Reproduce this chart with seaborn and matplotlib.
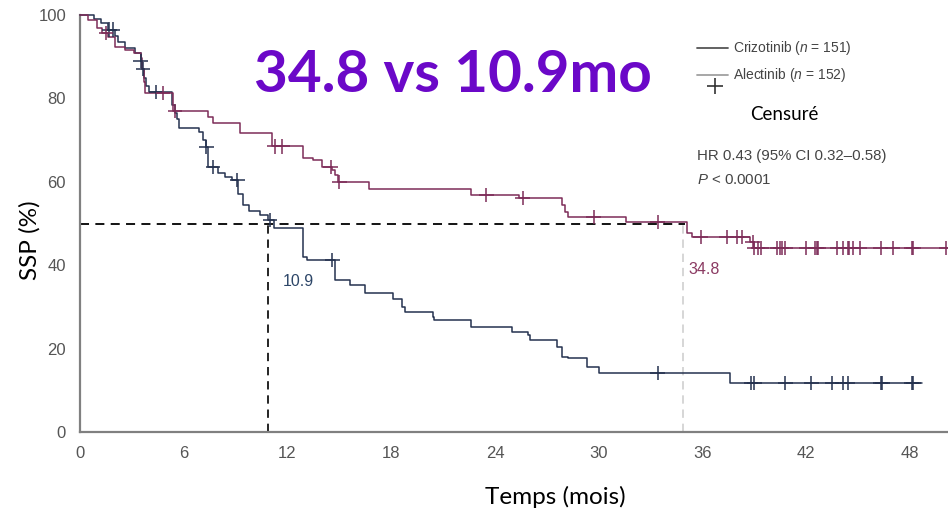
import numpy as np
import pandas as pd
import matplotlib
matplotlib.use("Agg")
import matplotlib.pyplot as plt
from matplotlib.lines import Line2D
import seaborn as sns

# ---------------- data ----------------
criz_time = [0, 0.8, 1.2, 1.6, 2.0, 2.2, 2.6, 3.2, 3.5, 3.6, 3.7, 3.8, 4.0, 5.3, 5.5, 5.6, 5.7,
             6.9, 7.1, 7.3, 7.4, 8.0, 8.4, 8.8, 9.15, 9.4, 9.8, 10.4, 10.9, 11.2, 12.9, 13.1,
             14.75, 15.6, 16.5, 18.1, 18.6, 18.8, 20.4, 20.5, 22.6, 25.0, 25.9, 26.0, 27.6,
             27.9, 28.2, 29.3, 30.0, 37.6, 48.7]
criz_surv = [100, 99, 98, 96.5, 95, 93.5, 92, 91, 89, 87, 85, 83, 81.5, 78.4, 76.5, 75, 73,
             72, 70, 68.3, 63.5, 62, 61.2, 60.4, 57, 54.5, 53, 52, 50.8, 49, 42, 41.2,
             36.5, 35.3, 33.3, 32, 30, 28.8, 27.6, 26.9, 25.2, 24, 23.3, 22.1, 20.4,
             18, 17.7, 15.6, 14.1, 11.8, 11.8]
criz_cens = [1.7, 1.9, 3.5, 3.65, 4.4, 7.3, 7.7, 9.1, 11.0, 14.6, 33.4, 38.8, 39.0, 40.8,
             42.3, 43.5, 44.1, 44.4, 46.3, 46.4, 48.1, 48.2]

alec_time = [0, 0.46, 1.0, 1.3, 1.6, 2.0, 2.6, 3.1, 3.5, 3.6, 3.7, 3.76, 5.4, 7.4, 7.7, 9.25,
             11.1, 12.9, 13.5, 14.0, 14.6, 14.75, 14.9, 16.7, 22.6, 25.4, 27.9, 28.05, 28.2,
             31.6, 35.1, 35.4, 38.75, 39.0, 50.2]
alec_surv = [100, 98.8, 96.9, 95.7, 94.7, 92.3, 91.6, 90.9, 89.7, 87, 84, 81.3, 77, 75.5, 74.2,
             71.8, 68.5, 65.7, 65.2, 63.5, 62.8, 61.6, 60, 58.3, 56.8, 56.1, 54.4, 52.8, 51.6,
             50.4, 47.7, 46.8, 45.6, 44.1, 44.1]
alec_cens = [1.5, 4.8, 5.5, 11.25, 11.7, 14.5, 15.0, 23.5, 25.6, 29.7, 33.4, 35.9, 37.4, 38.0,
             38.3, 38.9, 39.0, 39.2, 39.4, 40.3, 40.5, 40.6, 40.8, 42.0, 42.5, 42.6, 42.7,
             43.8, 44.1, 44.4, 44.5, 44.7, 45.1, 46.3, 47.0, 48.1, 48.2, 50.1]

arms = ["Crizotinib", "Alectinib"]
legend_labels = ["Crizotinib ($n$ = 151)", "Alectinib ($n$ = 152)"]
median_criz = 10.9
median_alec = 34.8
x_ticks = [0, 6, 12, 18, 24, 30, 36, 42, 48]
y_ticks = [0, 20, 40, 60, 80, 100]
title_text = "34.8 vs 10.9mo"
hr_text = "HR 0.43 (95% CI 0.32\u20130.58)"
p_text = "$P$ < 0.0001"
censor_label = "Censuré"
x_label = "Temps (mois)"
y_label = "SSP (%)"

# ---------------- styling ----------------
sns.set_theme(style="white")
plt.rcParams["font.family"] = ["Liberation Sans", "DejaVu Sans"]
plt.rcParams["mathtext.fontset"] = "custom"
plt.rcParams["mathtext.it"] = "Liberation Sans:italic"
plt.rcParams["mathtext.rm"] = "Liberation Sans"

colors = {"Crizotinib": "#25324f", "Alectinib": "#7d2c58"}

W, H = 948, 518
fig = plt.figure(figsize=(W / 100, H / 100), dpi=100)
ax = fig.add_axes([80 / W, 86 / H, 868 / W, 417 / H])


def fx(x):
    return x / W


def fy(y):
    return 1 - y / H


# curves
curve_df = pd.concat([
    pd.DataFrame({"t": criz_time, "s": criz_surv, "arm": "Crizotinib"}),
    pd.DataFrame({"t": alec_time, "s": alec_surv, "arm": "Alectinib"}),
], ignore_index=True)


def step_value(times, survs, t):
    i = np.searchsorted(times, t, side="right") - 1
    return survs[max(i, 0)]


cens_df = pd.concat([
    pd.DataFrame({"t": criz_cens,
                  "s": [step_value(criz_time, criz_surv, t) for t in criz_cens],
                  "arm": "Crizotinib"}),
    pd.DataFrame({"t": alec_cens,
                  "s": [step_value(alec_time, alec_surv, t) for t in alec_cens],
                  "arm": "Alectinib"}),
], ignore_index=True)

# reference lines
ax.plot([0, 35.0], [50, 50], color="black", lw=1.3, ls=(0, (5, 3.5)), zorder=1)
ax.plot([median_criz, median_criz], [0, 50], color="black", lw=1.2, ls=(0, (5, 3.5)), zorder=1)
ax.plot([median_alec + 0.1, median_alec + 0.1], [0, 50], color="#cfcfcf", lw=1.2,
        ls=(0, (5, 3.5)), zorder=1)

sns.lineplot(data=curve_df, x="t", y="s", hue="arm", palette=colors, estimator=None,
             sort=False, drawstyle="steps-post", linewidth=1.1, legend=False, ax=ax,
             clip_on=False, zorder=3)
sns.scatterplot(data=cens_df, x="t", y="s", hue="arm", palette=colors, marker="+", s=110,
                linewidth=1.1, legend=False, ax=ax, zorder=4, clip_on=False)

# axes
ax.set_xlim(0, 50.2)
ax.set_ylim(0, 100)
ax.set_xticks(x_ticks)
ax.set_yticks(y_ticks)
ax.set_xlabel("")
ax.set_ylabel("")
for side in ["top", "right"]:
    ax.spines[side].set_visible(False)
for side in ["left", "bottom"]:
    ax.spines[side].set_color("#808080")
    ax.spines[side].set_linewidth(1.6)
ax.tick_params(axis="both", which="major", direction="out", length=5, width=1.3,
               colors="#808080", labelcolor="#555555", labelsize=12, pad=5)
for lab in ax.get_xticklabels() + ax.get_yticklabels():
    lab.set_family(["Liberation Sans Narrow", "Liberation Sans", "DejaVu Sans"])

# annotations
ax.text(11.7, 36.2, f"{median_criz}", color="#2d4668", fontsize=11.5, ha="left", va="center")
ax.text(35.2, 39.0, f"{median_alec}", color="#8b3a62", fontsize=11.5, ha="left", va="center")

fig.text(fx(453), fy(75), title_text, ha="center", va="center", fontsize=42,
         fontweight="bold", family=["Lato", "DejaVu Sans"], color="#6b08c8")

# legend (manual)
leg_y = [48, 75]
leg_cols = ["#555555", "#a0a0a0"]
for yy, lab, c in zip(leg_y, legend_labels, leg_cols):
    fig.add_artist(Line2D([fx(697), fx(728)], [fy(yy), fy(yy)], transform=fig.transFigure,
                          color=c, lw=1.3))
    fig.text(fx(733), fy(yy), lab, ha="left", va="center", fontsize=10, color="#444444")
fig.add_artist(Line2D([fx(715)], [fy(86)], transform=fig.transFigure, marker="+",
                      markersize=12, markeredgewidth=1.2, color="#333333", ls="none"))
fig.text(fx(750), fy(114), censor_label, ha="left", va="center", fontsize=13.5,
         family=["Lato", "DejaVu Sans"], color="black")
fig.text(fx(697), fy(156), hr_text, ha="left", va="center", fontsize=10.8, color="#444444")
fig.text(fx(697), fy(180), p_text, ha="left", va="center", fontsize=10.8, color="#444444")

fig.text(fx(30), fy(240), y_label, rotation=90, ha="center", va="center", fontsize=17.5,
         family=["Lato", "DejaVu Sans"], color="black")
fig.text(fx(555), fy(497), x_label, ha="center", va="center", fontsize=17.5,
         family=["Lato", "DejaVu Sans"], color="black")

fig.savefig("out.png", dpi=100)
